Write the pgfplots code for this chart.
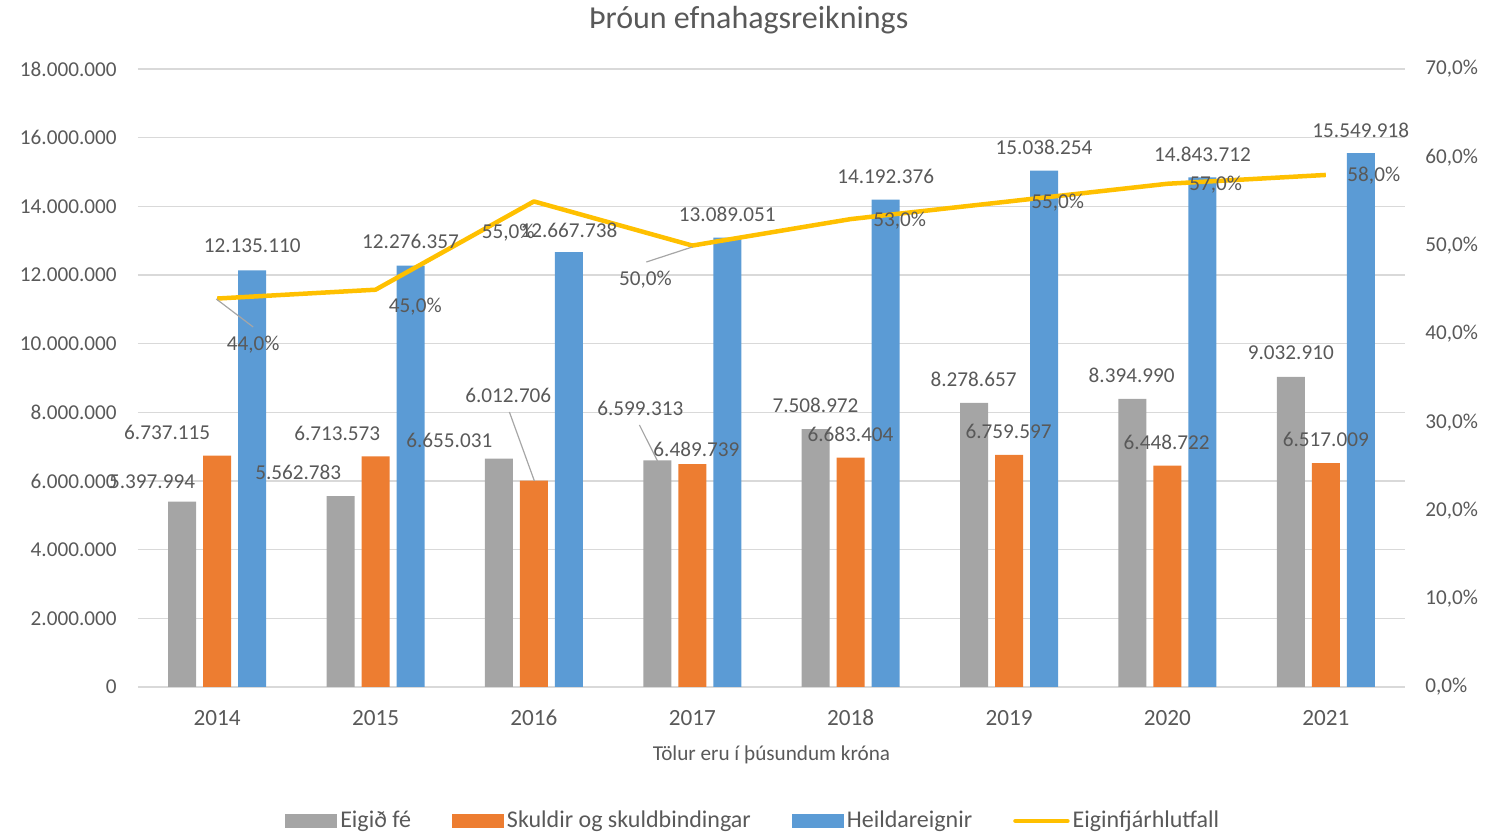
\documentclass[border=0pt]{standalone}
\usepackage{fontspec}
\setmainfont{Carlito}
\usepackage{pgfplots}
\usepackage{pgfplotstable}
\pgfplotsset{compat=1.18}
\definecolor{txt}{HTML}{595959}
\definecolor{gridc}{HTML}{D9D9D9}
\definecolor{cgrey}{HTML}{A5A5A5}
\definecolor{corange}{HTML}{ED7D31}
\definecolor{cblue}{HTML}{5B9BD5}
\definecolor{cyellow}{HTML}{FFC000}
\definecolor{lead}{HTML}{A6A6A6}
\newcommand\lf{\fontsize{10.6pt}{12pt}\selectfont}

\pgfplotstableread{
x ef sk he ratio
0 5397994 6737115 12135110 44
1 5562783 6713573 12276357 45
2 6655031 6012706 12667738 55
3 6599313 6489739 13089051 50
4 7508972 6683404 14192376 53
5 8278657 6759597 15038254 55
6 8394990 6448722 14843712 57
7 9032910 6517009 15549918 58
}\data

\begin{document}
\begin{tikzpicture}
\begin{axis}[
  scale only axis, width=633.5pt, height=309pt,
  clip=false,
  xmin=-0.5, xmax=7.5, ymin=0, ymax=18000000,
  scaled y ticks=false,
  xtick={0,1,2,3,4,5,6,7},
  xticklabels={2014,2015,2016,2017,2018,2019,2020,2021},
  ytick={0,2000000,4000000,6000000,8000000,10000000,12000000,14000000,16000000,18000000},
  yticklabels={0,2.000.000,4.000.000,6.000.000,8.000.000,10.000.000,12.000.000,14.000.000,16.000.000,18.000.000},
  ytick pos=left, xtick pos=bottom,
  major tick length=0pt,
  axis line style={draw=none},
  ymajorgrids, major grid style={gridc, line width=0.8pt},
  yticklabel style={font=\lf, text=txt, anchor=east, inner sep=0pt, xshift=-10.5pt},
  xticklabel style={font=\fontsize{11.6pt}{13pt}\selectfont, text=txt, anchor=center, inner sep=0pt, yshift=-15.5pt},
  xlabel={Tölur eru í þúsundum króna},
  xlabel style={font=\lf, text=txt, at={(0.5,0)}, anchor=center, yshift=-34pt},
  title={Þróun efnahagsreiknings},
  title style={font=\fontsize{16pt}{19pt}\selectfont, text=txt, at={(0.482,1)}, anchor=center, yshift=18.5pt},
  legend columns=-1,
  legend style={at={(0.486,-0.2168)}, anchor=center, draw=none, fill=none,
    font=\fontsize{12pt}{14pt}\selectfont, text=txt,
    /tikz/every even column/.append style={column sep=19pt},
    nodes={inner sep=1.5pt}},
]
\addplot[ybar, bar width=14pt, bar shift=-17.5pt, fill=cgrey, draw=none,
  legend image code/.code={\fill[cgrey] (0pt,-3.5pt) rectangle (26pt,3.5pt);}]
  table[x=x,y=ef]{\data};
\addlegendentry{Eigið fé}
\addplot[ybar, bar width=14pt, bar shift=0pt, fill=corange, draw=none,
  legend image code/.code={\fill[corange] (0pt,-3.5pt) rectangle (26pt,3.5pt);}]
  table[x=x,y=sk]{\data};
\addlegendentry{Skuldir og skuldbindingar}
\addplot[ybar, bar width=14pt, bar shift=17.5pt, fill=cblue, draw=none,
  legend image code/.code={\fill[cblue] (0pt,-3.5pt) rectangle (26pt,3.5pt);}]
  table[x=x,y=he]{\data};
\addlegendentry{Heildareignir}
\addlegendimage{cyellow, line width=2.25pt, line cap=round,
  legend image code/.code={\draw[cyellow, line width=2.25pt, line cap=round] (0pt,0pt) -- (26pt,0pt);}}
\addlegendentry{Eiginfjárhlutfall}
\end{axis}
\begin{axis}[
  scale only axis, width=633.5pt, height=309pt,
  clip=false,
  xmin=-0.5, xmax=7.5, ymin=0, ymax=70,
  hide x axis,
  axis y line*=right,
  axis line style={draw=none},
  major tick length=0pt,
  ytick={0,10,20,30,40,50,60,70},
  yticklabels={{0,0\%},{10,0\%},{20,0\%},{30,0\%},{40,0\%},{50,0\%},{60,0\%},{70,0\%}},
  yticklabel style={font=\lf, text=txt, anchor=west, inner sep=0pt, xshift=10pt},
]
\addplot[cyellow, line width=2.25pt, line join=round, mark=none] table[x=x,y=ratio]{\data};
% leader lines
\draw[lead, line width=0.6pt] (axis cs:-0.006,43.95) -- (axis cs:0.227,40.78);
\draw[lead, line width=0.6pt] (axis cs:2.710,48.14) -- (axis cs:3.0,49.84);
\draw[lead, line width=0.6pt] (axis cs:1.845,31.15) -- (axis cs:2.003,23.33);
\draw[lead, line width=0.6pt] (axis cs:2.666,29.68) -- (axis cs:2.780,25.60);
\begin{scope}[every node/.style={font=\lf, text=txt, inner sep=0pt}]
% Heildareignir
\node at (axis cs:0.221,49.95) {12.135.110};
\node at (axis cs:1.221,50.50) {12.276.357};
\node at (axis cs:2.221,51.75) {12.667.738};
\node at (axis cs:3.221,53.50) {13.089.051};
\node at (axis cs:4.221,57.80) {14.192.376};
\node at (axis cs:5.221,61.10) {15.038.254};
\node at (axis cs:6.221,60.30) {14.843.712};
\node at (axis cs:7.221,63.00) {15.549.918};
% Eigid fe
\node at (axis cs:-0.411,23.22) {5.397.994};
\node at (axis cs:0.512,24.35) {5.562.783};
\node at (axis cs:1.466,27.98) {6.655.031};
\node at (axis cs:2.672,31.60) {6.599.313};
\node at (axis cs:3.778,31.94) {7.508.972};
\node at (axis cs:4.776,34.89) {8.278.657};
\node at (axis cs:5.774,35.34) {8.394.990};
\node at (axis cs:6.779,37.83) {9.032.910};
% Skuldir
\node at (axis cs:-0.316,28.88) {6.737.115};
\node at (axis cs:0.758,28.77) {6.713.573};
\node at (axis cs:1.838,33.07) {6.012.706};
\node at (axis cs:3.026,26.96) {6.489.739};
\node at (axis cs:3.999,28.66) {6.683.404};
\node at (axis cs:4.997,29.00) {6.759.597};
\node at (axis cs:5.995,27.75) {6.448.722};
\node at (axis cs:7.0,28.09) {6.517.009};
% ratio
\node at (axis cs:0.227,38.74) {44,0\%};
\node at (axis cs:1.251,43.04) {45,0\%};
\node at (axis cs:1.838,51.42) {55,0\%};
\node at (axis cs:2.704,46.10) {50,0\%};
\node at (axis cs:4.309,52.78) {53,0\%};
\node at (axis cs:5.307,54.82) {55,0\%};
\node at (axis cs:6.305,56.86) {57,0\%};
\node at (axis cs:7.303,57.88) {58,0\%};
\end{scope}
\end{axis}
\pgfresetboundingbox
\path[use as bounding box] (-69pt,-73.5pt) rectangle (680.5pt,343.5pt);
\end{tikzpicture}
\end{document}
